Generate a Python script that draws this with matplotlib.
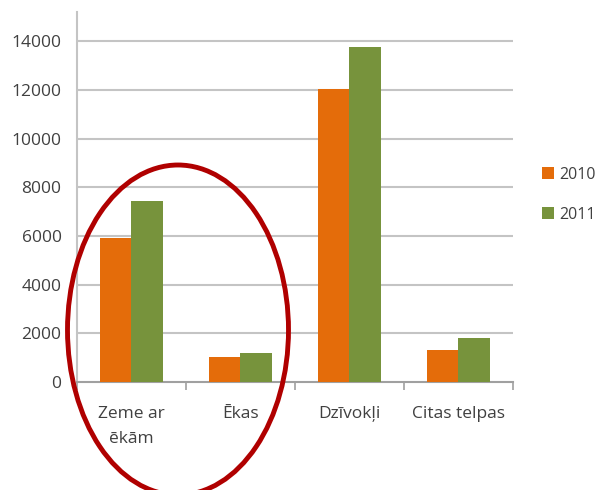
import matplotlib
matplotlib.use("Agg")
import matplotlib.pyplot as plt
import numpy as np
from matplotlib.patches import Ellipse

categories = ["Zeme ar\nēkām", "Ēkas", "Dzīvokļi", "Citas telpas"]
years = ["2010", "2011"]
values_2010 = [5930, 1030, 12020, 1320]
values_2011 = [7450, 1190, 13750, 1810]
yticks = [0, 2000, 4000, 6000, 8000, 10000, 12000, 14000]

orange = "#E46C0A"
green = "#77933C"
txt = "#404040"

plt.rcParams['font.family'] = ['Open Sans', 'DejaVu Sans']

fig = plt.figure(figsize=(6, 4.9), dpi=100)
ax = fig.add_axes([0.128, 0.2204, 0.727, 0.755])

x = np.arange(len(categories))
w = 0.29
ax.bar(x - w/2, values_2010, w, color=orange, label=years[0], zorder=3)
ax.bar(x + w/2, values_2011, w, color=green, label=years[1], zorder=3)

ax.set_xlim(-0.5, len(categories) - 0.5)
ax.set_ylim(0, 15200)
ax.set_yticks(yticks)
ax.set_yticklabels([str(v) for v in yticks], color=txt, fontsize=12.5)
for v in yticks[1:]:
    ax.axhline(v, color="#c4c4c4", lw=1.5, zorder=1)

# kategoriju nosaukumi + robežu ķeksīši
ax.set_xticks(x)
ax.set_xticklabels(categories, color=txt, fontsize=12.5, linespacing=1.75)
ax.tick_params(axis='x', length=0, pad=17)
ax.set_xticks(np.arange(len(categories) + 1) - 0.5, minor=True)
ax.tick_params(axis='x', which='minor', length=6, color="#a0a0a0", width=1.2)
ax.tick_params(axis='y', length=0, pad=11)

for s in ['top', 'right']:
    ax.spines[s].set_visible(False)
ax.spines['left'].set_color("#c4c4c4")
ax.spines['left'].set_linewidth(1.5)
ax.spines['bottom'].set_color("#a0a0a0")
ax.spines['bottom'].set_linewidth(1.5)

leg = fig.legend(loc='upper right', bbox_to_anchor=(0.998, 0.666), frameon=False,
                 fontsize=11.5, handlelength=0.75, handleheight=0.75,
                 handletextpad=0.35, labelspacing=1.5, borderpad=0.2,
                 borderaxespad=0.0)
for t in leg.get_texts():
    t.set_color(txt)

# sarkanā elipse
ell = Ellipse((178/600, 1 - 330/490), 221/600, 330/490, transform=fig.transFigure,
              fill=False, edgecolor="#B00000", lw=3.5, clip_on=False, zorder=10)
fig.patches.append(ell)

fig.savefig("out.png", dpi=100)
